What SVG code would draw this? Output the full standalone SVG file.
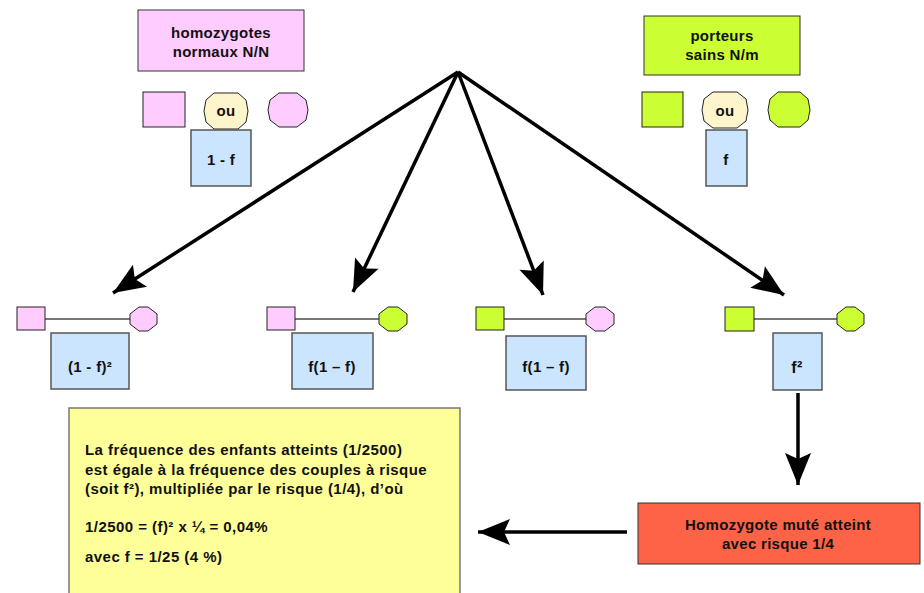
<svg xmlns="http://www.w3.org/2000/svg" width="924" height="593" viewBox="0 0 924 593">
  <style>
    text { font-family: "Liberation Sans", Arial, sans-serif; font-weight: bold; fill: #111; }
    .lbl { font-size: 15px; text-anchor: middle; letter-spacing: 0.3px; }
    .body { font-size: 15px; letter-spacing: 0.45px; }
    .pink { fill: #ffccff; stroke: #222; stroke-width: 1; }
    .green { fill: #ccff33; stroke: #222; stroke-width: 1; }
    .cream { fill: #fff5cc; stroke: #222; stroke-width: 1; }
    .blue { fill: #cce5ff; stroke: #555; stroke-width: 1.5; }
    .link { stroke: #777; stroke-width: 2; }
    .arrow { stroke: #000; stroke-width: 3.5; fill: none; marker-end: url(#head); }
  </style>
  <defs>
    <marker id="head" markerUnits="userSpaceOnUse" markerWidth="36" markerHeight="32" viewBox="-34 -16 36 32" refX="0" refY="0" orient="auto">
      <path d="M0,0 L-32,-13 L-26,0 L-32,13 Z" fill="#000"/>
    </marker>
  </defs>

  <rect width="924" height="593" fill="#fff"/>

  <!-- parental groups -->
  <g id="homozygotes">
    <rect x="138" y="10" width="166" height="61" fill="#ffccff" stroke="#333" stroke-width="1"/>
    <text class="lbl" x="221" y="38">homozygotes</text>
    <text class="lbl" x="221" y="57">normaux N/N</text>
  </g>
  <g id="homo-symbols">
    <rect class="pink" x="143" y="92" width="42" height="35"/>
    <polygon class="cream" points="214,93 238,93 246,100 248,111 246,122 238,129 214,129 206,122 204,111 206,100"/>
    <text class="lbl" x="226" y="116">ou</text>
    <polygon class="pink" points="279,93 297,93 306,100 308,110 306,120 297,127 279,127 270,120 268,110 270,100"/>
  </g>
  <g id="freq-normal">
    <rect class="blue" x="191" y="130" width="60" height="56"/>
    <text class="lbl" x="221" y="165">1 - f</text>
  </g>

  <g id="porteurs">
    <rect x="644" y="16" width="156" height="59" fill="#ccff33" stroke="#333" stroke-width="1"/>
    <text class="lbl" x="722" y="41">porteurs</text>
    <text class="lbl" x="722" y="60">sains N/m</text>
  </g>
  <g id="porteurs-symbols">
    <rect class="green" x="642" y="92" width="41" height="35"/>
    <polygon class="cream" points="713,92 737,92 746,99 748,110 746,121 737,128 713,128 704,121 702,110 704,99"/>
    <text class="lbl" x="725" y="116">ou</text>
    <polygon class="green" points="778,92 800,92 808,99 810,110 808,120 800,127 778,127 770,120 768,110 770,99"/>
  </g>
  <g id="freq-carrier">
    <rect class="blue" x="706" y="130" width="41" height="56"/>
    <text class="lbl" x="726" y="165">f</text>
  </g>

  <!-- couples -->
  <g id="couple-nn-nn">
    <line class="link" x1="45" y1="319" x2="130" y2="319"/>
    <rect class="pink" x="17" y="307" width="28" height="23"/>
    <polygon class="pink" points="139,307 148,307 157,314 157,324 148,331 139,331 130,324 130,314"/>
    <rect class="blue" x="51" y="333" width="78" height="56"/>
    <text class="lbl" x="90" y="372">(1 - f)²</text>
  </g>
  <g id="couple-nn-nm">
    <line class="link" x1="295" y1="319" x2="379" y2="319"/>
    <rect class="pink" x="267" y="307" width="28" height="23"/>
    <polygon class="green" points="388,307 398,307 407,314 407,324 398,331 388,331 379,324 379,314"/>
    <rect class="blue" x="292" y="333" width="81" height="56"/>
    <text class="lbl" x="332" y="372">f(1 – f)</text>
  </g>
  <g id="couple-nm-nn">
    <line class="link" x1="504" y1="319" x2="586" y2="319"/>
    <rect class="green" x="476" y="307" width="28" height="23"/>
    <polygon class="pink" points="595,307 605,307 614,314 614,324 605,331 595,331 586,324 586,314"/>
    <rect class="blue" x="506" y="336" width="80" height="54"/>
    <text class="lbl" x="546" y="372">f(1 – f)</text>
  </g>
  <g id="couple-nm-nm">
    <line class="link" x1="754" y1="319" x2="837" y2="319"/>
    <rect class="green" x="725" y="307" width="29" height="24"/>
    <polygon class="green" points="846,307 855,307 864,314 864,324 855,331 846,331 837,324 837,314"/>
    <rect class="blue" x="773" y="333" width="49" height="57"/>
    <text class="lbl" x="797" y="373" style="font-size:16px">f²</text>
  </g>

  <!-- explanation -->
  <g id="explication">
    <rect x="69" y="408" width="391" height="200" fill="#ffff99" stroke="#777" stroke-width="1.5"/>
    <text class="body" x="85" y="455">La fréquence des enfants atteints (1/2500)</text>
    <text class="body" x="85" y="475">est égale à la fréquence des couples à risque</text>
    <text class="body" x="85" y="494">(soit f²), multipliée par le risque (1/4), d’où</text>
    <text class="body" x="85" y="532">1/2500 = (f)² x ¼ = 0,04%</text>
    <text class="body" x="85" y="562">avec f = 1/25 (4 %)</text>
  </g>

  <g id="atteint">
    <rect x="638" y="503" width="282" height="61" fill="#ff6347" stroke="#333" stroke-width="1"/>
    <text class="lbl" x="778" y="530">Homozygote muté atteint</text>
    <text class="lbl" x="778" y="549">avec risque 1/4</text>
  </g>

  <!-- connectors -->
  <g id="connectors">
    <line class="arrow" x1="458" y1="72" x2="113" y2="293"/>
    <line class="arrow" x1="458" y1="72" x2="353" y2="292"/>
    <line class="arrow" x1="458" y1="72" x2="543" y2="295"/>
    <line class="arrow" x1="458" y1="72" x2="784" y2="295"/>
    <line class="arrow" x1="798" y1="393" x2="798" y2="485"/>
    <line class="arrow" x1="627" y1="532" x2="478" y2="532"/>
  </g>
</svg>
